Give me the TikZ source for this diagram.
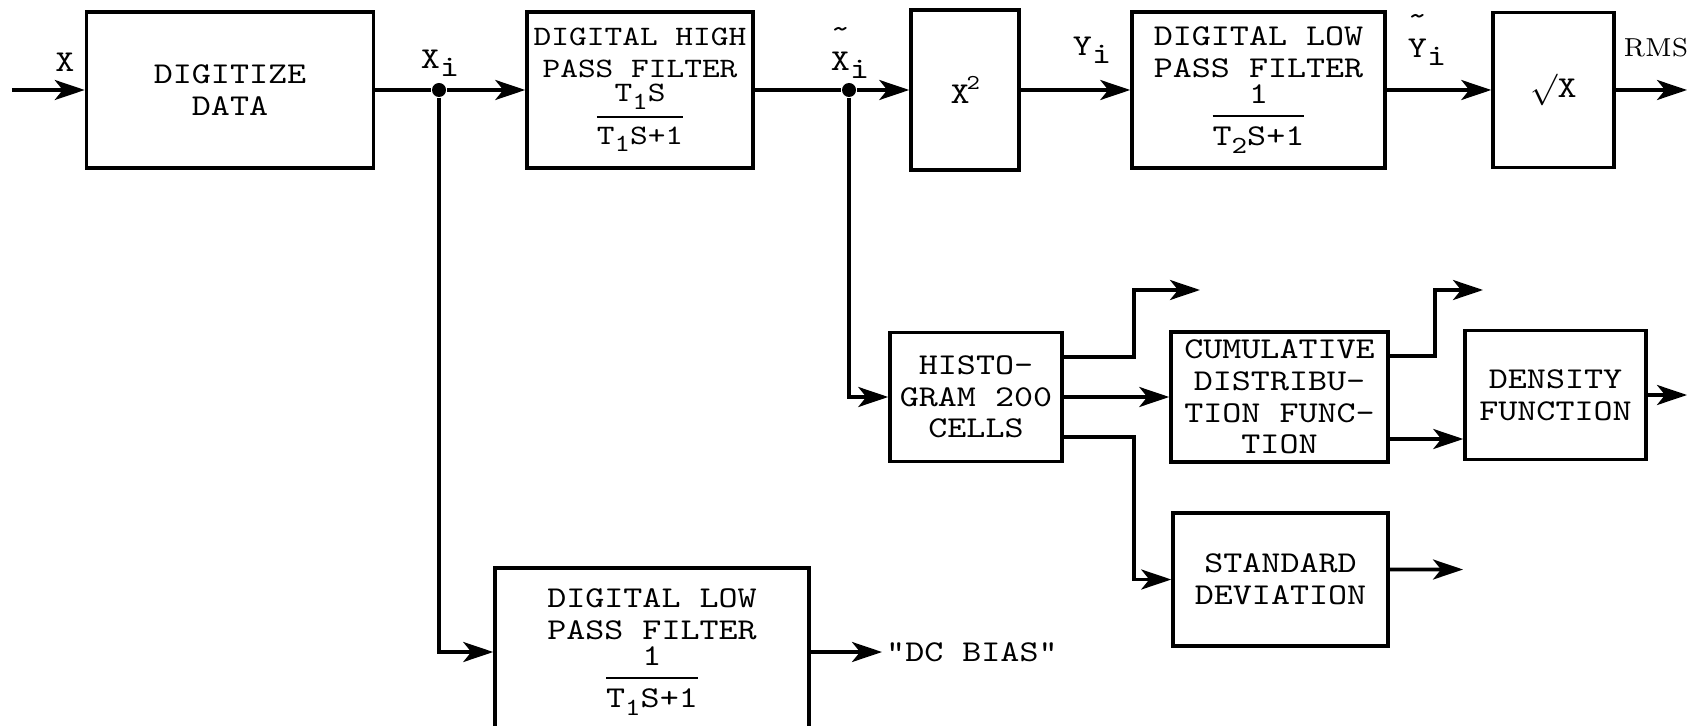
\documentclass[tikz,border=0pt]{standalone}
\usepackage{amsmath}
\usepackage{fontspec}
\setmonofont{lmmono10-regular}[Extension=.otf, FakeStretch=1.2]
\usepackage{tikz}
\usetikzlibrary{arrows.meta, positioning, calc}
\newcommand{\tyfont}{\ttfamily\fontsize{8.6}{9}\selectfont}
\newcommand{\subi}[1]{\raisebox{-0.6ex}{\fontsize{7}{7}\selectfont #1}}
\newcommand{\ffrac}[2]{$\genfrac{}{}{0.6pt}{0}{\hbox{#1}}{\hbox{#2}}$}
\tikzset{
  blk/.style={draw, line width=1pt, align=center, inner sep=1pt, font=\tyfont},
  lbl/.style={font=\tyfont, inner sep=1pt},
  arr/.style={-{Stealth[length=3mm, width=2mm, inset=0.8mm]}, line width=1pt},
  ln/.style={line width=1pt},
  jn/.style={circle, fill, inner sep=0pt, minimum size=1.4mm},
}

\begin{document}
\begin{tikzpicture}
  \useasboundingbox (0,0) rectangle (16.87,-7.25);
  % main row
  \node[blk, minimum width=2.87cm, minimum height=1.56cm] (dig) at (2.30,-0.90) {DIGITIZE\\DATA};
  \node[blk, minimum width=2.26cm, minimum height=1.56cm, font=\ttfamily\fontsize{8}{9}\selectfont] (hpf) at (6.40,-0.90)
    {DIGITAL HIGH\\PASS FILTER\\[1pt]\ffrac{T\subi{1}S}{T\subi{1}S+1}};
  \node[blk, minimum width=1.08cm, minimum height=1.60cm] (sq) at (9.65,-0.90) {$\mathtt{X^2}$};
  \node[blk, minimum width=2.53cm, minimum height=1.56cm] (lpf2) at (12.585,-0.90)
    {DIGITAL LOW\\PASS FILTER\\[1pt]\ffrac{1}{T\subi{2}S+1}};
  \node[blk, minimum width=1.21cm, minimum height=1.55cm] (rt) at (15.535,-0.90) {$\surd$X};
  \node[jn] (j1) at (4.39,-0.90) {};
  \node[jn] (j2) at (8.49,-0.90) {};
  \coordinate (xin) at (0.12,-0.90);
  \coordinate (rms) at (16.87,-0.90);
  \node[lbl] (lx) at (0.65,-0.62) {X};
  \node[lbl] (lxi) at (4.40,-0.63) {X\raisebox{-0.6ex}{i}};
  \node[lbl, align=left] (lxt) at (8.50,-0.53) {\textasciitilde\\[0pt]X\raisebox{-0.6ex}{i}};
  \node[lbl] (lyi) at (10.92,-0.50) {Y\raisebox{-0.6ex}{i}};
  \node[lbl, align=left] (lyt) at (14.27,-0.40) {\textasciitilde\\[0pt]Y\raisebox{-0.6ex}{i}};
  \node[lbl, font=\rmfamily\fontsize{7.4}{8}\selectfont] (lrms) at (16.56,-0.48) {RMS};
  \draw[arr] (xin) -- (dig.west);
  \draw[ln] (dig.east) -- (j1);
  \draw[arr] (j1) -- (hpf.west);
  \draw[ln] (hpf.east) -- (j2);
  \draw[arr] (j2) -- (sq.west);
  \foreach \a/\b in {sq/lpf2, lpf2/rt} \draw[arr] (\a.east) -- (\b.west);
  \draw[arr] (rt.east) -- (rms);
  % dc branch
  \node[blk, minimum width=3.14cm, minimum height=1.68cm] (lpf1) at (6.52,-6.52)
    {DIGITAL LOW\\PASS FILTER\\[1pt]\ffrac{1}{T\subi{1}S+1}};
  \node[lbl, anchor=west] (dc) at (8.82,-6.52) {"DC BIAS"};
  \draw[arr] (j1) |- (lpf1.west);
  \draw[arr] (lpf1.east) -- (dc.west);
  % statistics branch
  \node[blk, minimum width=1.72cm, minimum height=1.29cm] (hist) at (9.76,-3.97) {HISTO-\\GRAM 200\\CELLS};
  \node[blk, minimum width=2.17cm, minimum height=1.30cm] (cdf) at (12.795,-3.97)
    {CUMULATIVE\\DISTRIBU-\\TION FUNC-\\TION};
  \node[blk, minimum width=1.81cm, minimum height=1.29cm] (dens) at (15.555,-3.95) {DENSITY\\FUNCTION};
  \node[blk, minimum width=2.15cm, minimum height=1.33cm] (std) at (12.805,-5.795) {STANDARD\\DEVIATION};
  \coordinate (hup) at (12.00,-2.90);
  \coordinate (cup) at (14.83,-2.90);
  \coordinate (c2) at ($(cdf.east)+(0,-0.42)$);
  \coordinate (dout) at (16.87,-3.95);
  \coordinate (sout) at (14.63,-5.695);
  \draw[arr] (j2) |- (hist.west);
  \draw[arr] ($(hist.east)+(0,0.40)$) -- ++(0.70,0) |- (hup);
  \draw[arr] (hist.east) -- (cdf.west);
  \draw[arr] ($(hist.east)+(0,-0.40)$) -- ++(0.70,0) |- (std.west);
  \draw[arr] ($(cdf.east)+(0,0.41)$) -- ++(0.45,0) |- (cup);
  \draw[arr] (c2) -- (c2 -| dens.west);
  \draw[arr] (dens.east) -- (dout);
  \draw[arr] ($(std.east)+(0,0.10)$) -- (sout);
\end{tikzpicture}
\end{document}
